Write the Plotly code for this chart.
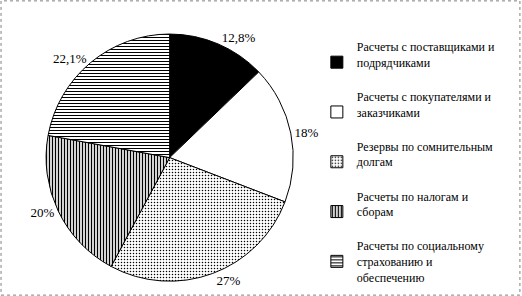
import plotly.graph_objects as go

labels = [
    "Расчеты с поставщиками и<br>подрядчиками<br> ",
    "Расчеты с покупателями и<br>заказчиками<br> ",
    "Резервы по сомнительным<br>долгам<br> ",
    "Расчеты по налогам и<br>сборам<br> ",
    "Расчеты по социальному<br>страхованию и<br>обеспечению",
]
values = [12.8, 18, 27, 20, 22.1]
pct_text = [f"{v:g}".replace(".", ",") + "%" for v in values]

shapes_ = ["", "", ".", "|", "-"]
fill_bg = ["black", "white", "white", "white", "white"]
pat_size = [8, 8, 3, 3, 3]
pat_sol = [0.3, 0.3, 0.2, 0.45, 0.35]

FONT = "Times New Roman, Liberation Serif, serif"

fig = go.Figure(go.Pie(
    labels=labels,
    values=values,
    text=pct_text,
    textinfo="text",
    textposition="outside",
    sort=False,
    direction="clockwise",
    rotation=0,
    marker=dict(
        colors=fill_bg,
        line=dict(color="black", width=1),
        pattern=dict(shape=shapes_, fgcolor="black", bgcolor=fill_bg,
                     size=pat_size, solidity=pat_sol),
    ),
    textfont=dict(family=FONT, size=13, color="black"),
    domain=dict(x=[0.03, 0.62], y=[0.05, 0.885]),
    hoverinfo="skip",
))

fig.update_layout(
    width=522, height=296,
    margin=dict(l=0, r=0, t=0, b=0, autoexpand=False),
    paper_bgcolor="white",
    plot_bgcolor="white",
    font=dict(family=FONT, color="black"),
    showlegend=True,
    legend=dict(x=0.607, y=0.891, xanchor="left", yanchor="top",
                bgcolor="rgba(0,0,0,0)",
                font=dict(family=FONT, size=12, color="black"),
                itemwidth=30, tracegroupgap=0),
    shapes=[dict(type="rect", xref="paper", yref="paper", x0=0.002, x1=0.996,
                 y0=0.003, y1=0.997, line=dict(color="gray", width=1, dash="dot"))],
)

fig.write_html("out.html")
